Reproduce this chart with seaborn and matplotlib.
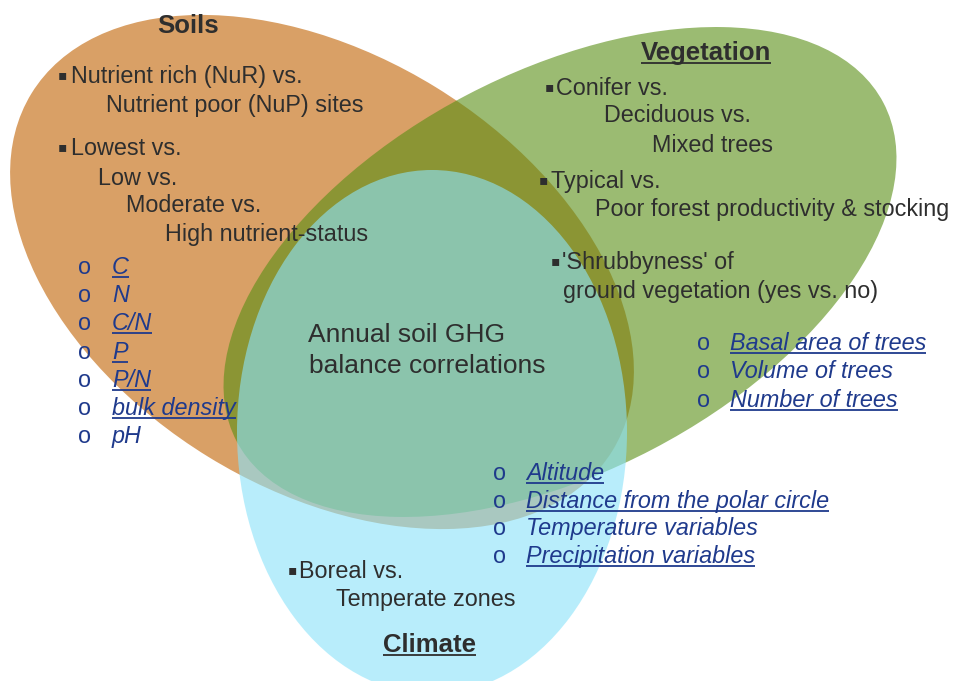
import matplotlib
matplotlib.use("Agg")
import matplotlib.pyplot as plt
from matplotlib.patches import Ellipse
import seaborn as sns

# ---------------- data (texts of the diagram) ----------------
soil_title = "Soils"
soil_lines = ["Nutrient rich (NuR) vs.", "Nutrient poor (NuP) sites",
              "Lowest vs.", "Low vs.", "Moderate vs.", "High nutrient-status"]
soil_bullet_flags = [True, False, True, False, False, False]
soil_vars = ["C", "N", "C/N", "P", "P/N", "bulk density", "pH"]
soil_vars_underlined = [True, False, True, True, True, True, False]

veg_title = "Vegetation"
veg_lines = ["Conifer vs.", "Deciduous vs.", "Mixed trees", "Typical vs.",
             "Poor forest productivity & stocking", "'Shrubbyness' of",
             "ground vegetation (yes vs. no)"]
veg_bullet_flags = [True, False, False, True, False, True, False]
veg_vars = ["Basal area of trees", "Volume of trees", "Number of trees"]
veg_vars_underlined = [True, False, True]

clim_title = "Climate"
clim_lines = ["Boreal vs.", "Temperate zones"]
clim_bullet_flags = [True, False]
clim_vars = ["Altitude", "Distance from the polar circle",
             "Temperature variables", "Precipitation variables"]
clim_vars_underlined = [True, True, False, True]

center_lines = ["Annual soil GHG", "balance correlations"]

# ---------------- layout (pixel coordinates, y down) ----------------
W, H = 954, 681
soil_shape = dict(xy=(322, 272), width=682, height=434, angle=31.6)
veg_shape = dict(xy=(560, 272), width=730, height=400, angle=-27.6)
clim_shape = dict(xy=(432, 432), width=390, height=524, angle=0)

soil_col, soil_alpha = "#D9A066", 1.0
veg_col, veg_alpha = "#588E14", 0.60
clim_col, clim_alpha = "#8BE3FA", 0.61

soil_title_pos = (188, 33)
veg_title_pos = (706, 60)
clim_title_pos = (430, 652)

soil_line_pos = [(71, 83), (106, 112), (71, 155), (98, 185), (126, 212), (165, 241)]
soil_bullet_x = 58
soil_var_o_x, soil_var_x, soil_var_y0, soil_var_dy = 78, 112, 274, 28.2

veg_line_pos = [(556, 95), (604, 122), (652, 152), (551, 188), (595, 216),
                (562, 269), (563, 298)]
veg_bullet_x = [545, None, None, 539, None, 551, None]
veg_var_o_x, veg_var_x, veg_var_y0, veg_var_dy = 697, 730, 350, 28.5

clim_line_pos = [(299, 578), (336, 606)]
clim_bullet_x = [288, None]
clim_var_o_x, clim_var_x, clim_var_y0, clim_var_dy = 493, 526, 480, 27.7

center_pos = [(308, 342), (309, 373)]

TXT = "#2e2e2e"
BLUE = "#1f3a8c"
FS = 16.8
FS_HEAD = 18.5
FS_CENTER = 19.0

# ---------------- drawing ----------------
sns.set_theme(style="white")
plt.rcParams["font.family"] = ["Liberation Sans", "DejaVu Sans"]

fig = plt.figure(figsize=(W / 100, H / 100), dpi=100)
ax = fig.add_axes([0, 0, 1, 1])
ax.set_xlim(0, W)
ax.set_ylim(H, 0)
ax.axis("off")

ax.add_patch(Ellipse(**soil_shape, facecolor=soil_col, alpha=soil_alpha,
                     edgecolor="none", zorder=1))
ax.add_patch(Ellipse(**veg_shape, facecolor=veg_col, alpha=veg_alpha,
                     edgecolor="none", zorder=2))
ax.add_patch(Ellipse(**clim_shape, facecolor=clim_col, alpha=clim_alpha,
                     edgecolor="none", zorder=3))

underlines = []


def put(x, y, s, color=TXT, size=FS, weight="normal", style="normal",
        ha="left", underline=False):
    t = ax.text(x, y, s, color=color, fontsize=size, fontweight=weight,
                fontstyle=style, ha=ha, va="baseline", zorder=5)
    if underline:
        underlines.append((t, y, color))
    return t


def bullet(x, y):
    ax.text(x, y - 4, "\u25aa", color=TXT, fontsize=10, ha="left",
            va="baseline", family=["DejaVu Sans"], zorder=5)


# titles
put(*soil_title_pos, soil_title, size=FS_HEAD, weight="bold", ha="center")
put(*veg_title_pos, veg_title, size=FS_HEAD, weight="bold", ha="center",
    underline=True)
put(*clim_title_pos, clim_title, size=FS_HEAD, weight="bold", ha="center",
    underline=True)

# soils
for (x, y), s, b in zip(soil_line_pos, soil_lines, soil_bullet_flags):
    put(x, y, s)
    if b:
        bullet(soil_bullet_x, y)
for i, (s, u) in enumerate(zip(soil_vars, soil_vars_underlined)):
    y = soil_var_y0 + i * soil_var_dy
    put(soil_var_o_x, y, "o", color=BLUE)
    put(soil_var_x, y, s, color=BLUE, style="italic", underline=u)

# vegetation
for (x, y), s, bx in zip(veg_line_pos, veg_lines, veg_bullet_x):
    put(x, y, s)
    if bx is not None:
        bullet(bx, y)
for i, (s, u) in enumerate(zip(veg_vars, veg_vars_underlined)):
    y = veg_var_y0 + i * veg_var_dy
    put(veg_var_o_x, y, "o", color=BLUE)
    put(veg_var_x, y, s, color=BLUE, style="italic", underline=u)

# climate
for (x, y), s, bx in zip(clim_line_pos, clim_lines, clim_bullet_x):
    put(x, y, s)
    if bx is not None:
        bullet(bx, y)
for i, (s, u) in enumerate(zip(clim_vars, clim_vars_underlined)):
    y = clim_var_y0 + i * clim_var_dy
    put(clim_var_o_x, y, "o", color=BLUE)
    put(clim_var_x, y, s, color=BLUE, style="italic", underline=u)

# centre label
for (x, y), s in zip(center_pos, center_lines):
    put(x, y, s, size=FS_CENTER)

# underlines
fig.canvas.draw()
renderer = fig.canvas.get_renderer()
for t, y, c in underlines:
    bb = t.get_window_extent(renderer)
    ax.plot([bb.x0, bb.x1], [y + 3, y + 3], color=c, lw=1.3,
            solid_capstyle="butt", zorder=5)

fig.savefig("out.png", dpi=100)
